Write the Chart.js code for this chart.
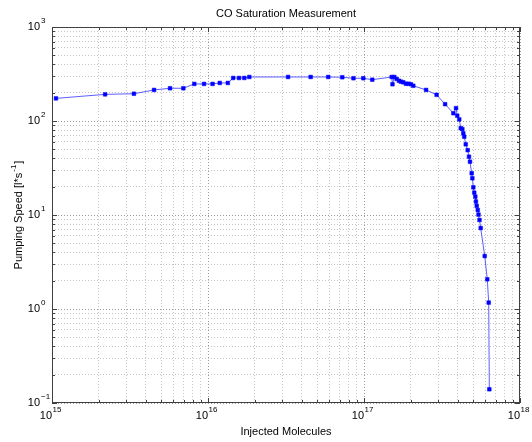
<!DOCTYPE html>
<html>
<head>
<meta charset="utf-8">
<script src="https://cdn.jsdelivr.net/npm/chart.js@4/dist/chart.umd.min.js"></script>
<style>
  html, body { margin: 0; padding: 0; background: #fff; }
  #wrap { width: 532px; height: 442px; position: relative; }
</style>
</head>
<body>
<div id="wrap"><canvas id="c" width="532" height="442"></canvas></div>
<script>
// Cumulative injected CO molecules
const injectedMolecules = [
  1.06e15, 2.19e15, 3.35e15, 4.51e15, 5.71e15, 6.95e15, 8.17e15, 9.43e15,
  1.07e16, 1.19e16, 1.34e16, 1.45e16, 1.58e16, 1.71e16, 1.84e16, 3.26e16,
  4.55e16, 5.90e16, 7.26e16, 8.56e16, 9.90e16, 1.13e17, 1.505e17, 1.523e17,
  1.564e17, 1.62e17, 1.676e17, 1.727e17, 1.786e17, 1.858e17, 1.923e17, 2.00e17,
  2.07e17, 2.50e17, 2.92e17, 3.31e17, 3.74e17, 3.89e17, 3.96e17, 4.08e17,
  4.17e17, 4.27e17, 4.33e17, 4.39e17, 4.49e17, 4.62e17, 4.71e17, 4.78e17,
  4.90e17, 4.95e17, 5.02e17, 5.09e17, 5.17e17, 5.22e17, 5.28e17, 5.36e17,
  5.42e17, 5.50e17, 5.60e17, 5.94e17, 6.17e17, 6.30e17, 6.36e17
];
// Measured pumping speed in l/s
const pumpingSpeed = [
  174, 192, 195, 214, 223, 223, 248, 248,
  248, 254, 254, 287, 287, 287, 294, 294,
  294, 294, 292, 285, 285, 275, 294, 246,
  294, 280, 268, 262, 258, 249, 249, 246,
  237, 214, 190, 151, 121, 137, 114, 104,
  84, 82, 74, 68, 56.5, 49, 41.7, 36.9,
  27.8, 24.6, 19.7, 17.3, 15.7, 13.9, 12.5, 11.3,
  10.1, 8.85, 7.27, 3.66, 2.07, 1.17, 0.14
];
// Decade exponents used for axis tick labels
const xDecades = [15, 16, 17, 18];
const yDecades = [-1, 0, 1, 2, 3];

const titleText = 'CO Saturation Measurement';
const xTitle = 'Injected Molecules';
const yTitleParts = ['Pumping Speed [l*s', '-1', ']'];

const FONT = '"Liberation Sans", Arial, Helvetica, sans-serif';

// 1..9 x 10^e for every decade in range
function logTicks(decades) {
  const out = [];
  for (let i = 0; i < decades.length; i++) {
    const e = decades[i];
    out.push(Math.pow(10, e));
    if (i < decades.length - 1) {
      for (let m = 2; m <= 9; m++) out.push(m * Math.pow(10, e));
    }
  }
  return out;
}
const isDecade = v => Math.abs(Math.log10(v) - Math.round(Math.log10(v))) < 1e-9;

const points = injectedMolecules.map((x, i) => ({ x: x, y: pumpingSpeed[i] }));

// Frame, inward tick marks, tick labels and titles
const decorations = {
  id: 'decorations',
  afterDraw(chart) {
    const ctx = chart.ctx;
    const a = chart.chartArea;
    const xs = chart.scales.x, ys = chart.scales.y;
    ctx.save();
    // tick marks
    ctx.strokeStyle = '#404040';
    ctx.lineWidth = 1;
    ctx.beginPath();
    logTicks(xDecades).forEach(v => {
      const px = Math.round(xs.getPixelForValue(v)) + 0.5;
      const len = isDecade(v) ? 5 : 3;
      ctx.moveTo(px, a.bottom); ctx.lineTo(px, a.bottom - len);
      ctx.moveTo(px, a.top); ctx.lineTo(px, a.top + len);
    });
    logTicks(yDecades).forEach(v => {
      const py = Math.round(ys.getPixelForValue(v)) + 0.5;
      const len = isDecade(v) ? 5 : 3;
      ctx.moveTo(a.left, py); ctx.lineTo(a.left + len, py);
      ctx.moveTo(a.right, py); ctx.lineTo(a.right - len, py);
    });
    ctx.stroke();
    // frame
    ctx.strokeRect(Math.round(a.left) + 0.5, Math.round(a.top) + 0.5,
                   Math.round(a.right - a.left) - 1, Math.round(a.bottom - a.top) - 1);

    ctx.fillStyle = '#000';
    // x tick labels
    xDecades.forEach(e => {
      const px = xs.getPixelForValue(Math.pow(10, e));
      ctx.font = '11px ' + FONT;
      ctx.textAlign = 'right';
      ctx.textBaseline = 'middle';
      ctx.fillText('10', px, a.bottom + 13);
      ctx.font = '8px ' + FONT;
      ctx.textAlign = 'left';
      ctx.fillText(String(e), px + 0.5, a.bottom + 7);
    });
    // y tick labels
    yDecades.forEach(e => {
      const py = ys.getPixelForValue(Math.pow(10, e));
      ctx.font = '11px ' + FONT;
      ctx.textAlign = 'right';
      ctx.textBaseline = 'middle';
      ctx.fillText('10', a.left - 12, py);
      ctx.font = '8px ' + FONT;
      ctx.textAlign = 'left';
      ctx.fillText(String(e).replace('-', '\u2212'), a.left - 11, py - 6);
    });
    // chart title and x title
    const cx = (a.left + a.right) / 2;
    ctx.font = '11px ' + FONT;
    ctx.textAlign = 'center';
    ctx.textBaseline = 'middle';
    ctx.fillText(titleText, cx, 14);
    ctx.fillText(xTitle, cx, 432);
    // y title with superscript exponent
    ctx.save();
    ctx.translate(19, (a.top + a.bottom) / 2);
    ctx.rotate(-Math.PI / 2);
    ctx.textAlign = 'left';
    ctx.font = '11px ' + FONT;
    const w1 = ctx.measureText(yTitleParts[0]).width;
    const w3 = ctx.measureText(yTitleParts[2]).width;
    ctx.font = '8px ' + FONT;
    const w2 = ctx.measureText(yTitleParts[1]).width;
    let x0 = -(w1 + w2 + w3 + 2) / 2;
    ctx.font = '11px ' + FONT;
    ctx.fillText(yTitleParts[0], x0, 0);
    ctx.font = '8px ' + FONT;
    ctx.fillText(yTitleParts[1], x0 + w1 + 1, -5);
    ctx.font = '11px ' + FONT;
    ctx.fillText(yTitleParts[2], x0 + w1 + w2 + 2, 0);
    ctx.restore();
    ctx.restore();
  }
};

const gridColor = ctx => (ctx.tick && isDecade(ctx.tick.value)) ? '#9a9a9a' : '#c4c4c4';

new Chart(document.getElementById('c'), {
  type: 'scatter',
  data: {
    datasets: [{
      data: points,
      showLine: true,
      borderColor: 'rgba(40,40,255,0.75)',
      borderWidth: 1,
      backgroundColor: '#0000ff',
      pointBackgroundColor: '#0000ff',
      pointBorderColor: '#0000ff',
      pointStyle: 'rect',
      pointRadius: 2.6,
      pointBorderWidth: 0.5,
      tension: 0
    }]
  },
  options: {
    responsive: false,
    animation: false,
    layout: { padding: { left: 52, right: 12, top: 27, bottom: 39 } },
    plugins: { legend: { display: false }, tooltip: { enabled: false }, title: { display: false } },
    scales: {
      x: {
        type: 'logarithmic',
        min: 1e15, max: 1e18,
        afterBuildTicks: s => { s.ticks = logTicks(xDecades).map(v => ({ value: v })); },
        afterFit: s => { s.height = 0; },
        ticks: { display: false },
        grid: { color: gridColor, lineWidth: 1, drawTicks: false },
        border: { display: false, dash: [1, 2] }
      },
      y: {
        type: 'logarithmic',
        min: 0.1, max: 1000,
        afterBuildTicks: s => { s.ticks = logTicks(yDecades).map(v => ({ value: v })); },
        afterFit: s => { s.width = 0; },
        ticks: { display: false },
        grid: { color: gridColor, lineWidth: 1, drawTicks: false },
        border: { display: false, dash: [1, 2] }
      }
    }
  },
  plugins: [decorations]
});
</script>
</body>
</html>
